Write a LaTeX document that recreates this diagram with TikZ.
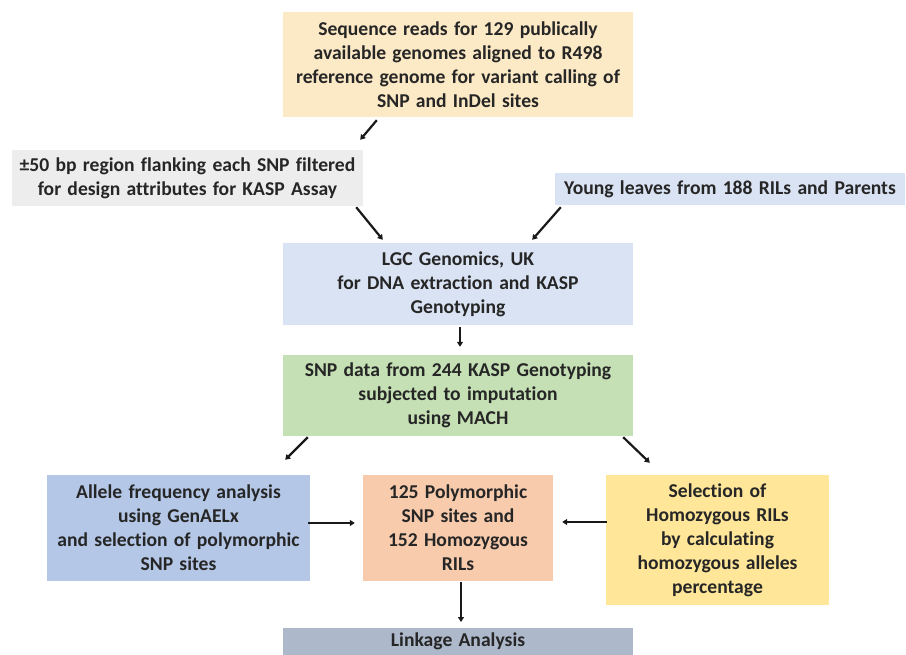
\documentclass[tikz,border=0pt]{standalone}
\usepackage{fontspec}
\setmainfont[Ligatures={NoCommon}]{Carlito}
\usetikzlibrary{arrows.meta,calc}
\definecolor{cTan}{HTML}{FCE9C5}
\definecolor{cGrey}{HTML}{EDEDED}
\definecolor{cLBlue}{HTML}{DAE3F3}
\definecolor{cGreen}{HTML}{C5E0B4}
\definecolor{cBlue}{HTML}{B4C7E7}
\definecolor{cOrange}{HTML}{F8CBAD}
\definecolor{cYellow}{HTML}{FFE699}
\definecolor{cSlate}{HTML}{ADB9CA}
\definecolor{cText}{HTML}{262626}
\newcommand\bxfont{\fontsize{19.6}{24}\selectfont\bfseries\spaceskip 0.32em plus 0.1em minus 0.05em\relax}
\tikzset{
  box/.style={inner sep=0pt, align=center, text=cText, font=\bxfont},
  arr/.style={line width=2.2pt, draw=black!90, -{Stealth[length=5pt,width=6pt,inset=0pt]}}
}
\begin{document}
\begin{tikzpicture}[x=1pt,y=-1pt]
\useasboundingbox (0,0) rectangle (906,655);
\node[box, fill=cTan, minimum width=350pt, minimum height=105pt] (top) at (458,64.5)
  {Sequence reads for 129 publically\\available genomes aligned to R498\\reference genome for variant calling of\\SNP and InDel sites};
\node[box, fill=cGrey, minimum width=351pt, minimum height=56pt] (grey) at (187.5,178)
  {±50 bp region flanking each SNP filtered\\for design attributes for KASP Assay};
\node[box, fill=cLBlue, minimum width=350pt, minimum height=32pt] (young) at (730,189)
  {Young leaves from 188 RILs and Parents};
\node[box, fill=cLBlue, minimum width=350pt, minimum height=82pt] (lgc) at (458,284)
  {LGC Genomics, UK\\for DNA extraction and KASP\\Genotyping};
\node[box, fill=cGreen, minimum width=350pt, minimum height=81pt] (snp) at (458,395.5)
  {SNP data from 244 KASP Genotyping\\subjected to imputation\\using MACH};
\node[box, fill=cBlue, minimum width=263pt, minimum height=106pt] (allele) at (178.5,528)
  {Allele frequency analysis\\using GenAELx\\and selection of polymorphic\\SNP sites};
\node[box, fill=cOrange, minimum width=190pt, minimum height=106pt] (poly) at (458,528)
  {125 Polymorphic\\SNP sites and\\152 Homozygous\\RILs};
\node[box, fill=cYellow, minimum width=223pt, minimum height=130pt] (sel) at (717.5,540)
  {Selection of\\Homozygous RILs\\by calculating\\homozygous alleles\\percentage};
\node[box, fill=cSlate, minimum width=350pt, minimum height=27pt, anchor=north] (link) at (458,628)
  {\raisebox{-1.5pt}{Linkage Analysis}};
\draw[arr] ($(top.south west)+(94,3)$) -- ($(grey.north east)+(-3,-10)$);
\draw[arr] ($(grey.south east)+(-7,1)$) -- ($(lgc.north west)+(100,-3)$);
\draw[arr] ($(young.south west)+(6,2)$) -- ($(lgc.north east)+(-101,-3)$);
\draw[arr] ($(lgc.south)+(2,2)$) -- ($(snp.north)+(2,-8)$);
\draw[arr] ($(snp.south west)+(25,1)$) -- ($(allele.north east)+(-25,-15)$);
\draw[arr] ($(snp.south east)+(-10,1)$) -- ($(sel.north west)+(44,-12)$);
\draw[arr] ($(allele.east)+(-2,-5)$) -- ($(poly.west)+(-8,-5)$);
\draw[arr] ($(sel.west)+(1,-18)$) -- ($(poly.east)+(9,-6)$);
\draw[arr] ($(poly.south)+(3,1)$) -- ($(link.north)+(3,-6)$);
\end{tikzpicture}
\end{document}
